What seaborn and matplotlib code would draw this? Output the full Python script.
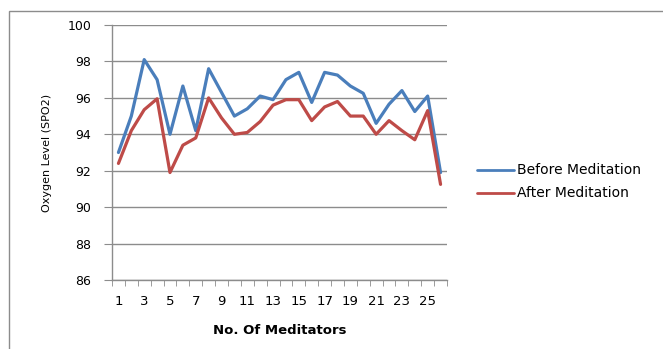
import numpy as np
import pandas as pd
import matplotlib
matplotlib.use("Agg")
import matplotlib.pyplot as plt
import seaborn as sns
from matplotlib.patches import Rectangle

meditators = list(range(1, 27))
before = [93.0, 95.0, 98.1, 97.0, 94.0, 96.65, 94.2, 97.6, 96.3, 95.0,
          95.4, 96.1, 95.9, 97.0, 97.4, 95.75, 97.4, 97.25, 96.65, 96.25,
          94.6, 95.65, 96.4, 95.25, 96.1, 91.9]
after = [92.4, 94.2, 95.35, 95.95, 91.9, 93.4, 93.8, 96.0, 94.9, 94.0,
         94.1, 94.7, 95.6, 95.9, 95.9, 94.75, 95.5, 95.8, 95.0, 95.0,
         94.0, 94.75, 94.2, 93.7, 95.3, 91.25]
series_names = ["Before Meditation", "After Meditation"]
y_ticks = [86, 88, 90, 92, 94, 96, 98, 100]

df = pd.DataFrame({
    "Meditator": meditators * 2,
    "SPO2": before + after,
    "Series": [series_names[0]] * len(before) + [series_names[1]] * len(after),
})

sns.set_style("white")
plt.rcParams["font.family"] = ["DejaVu Sans"]
plt.rcParams["text.color"] = "black"
plt.rcParams["axes.labelcolor"] = "black"
plt.rcParams["xtick.color"] = "black"
plt.rcParams["ytick.color"] = "black"

fig = plt.figure(figsize=(6.63, 3.49), dpi=100)
ax = fig.add_axes([112 / 663, 1 - 280 / 349, (447 - 112) / 663, (280 - 25) / 349])

grid_c = "#8c8c8c"
colors = ["#4a7ebb", "#be4b48"]
for y in y_ticks:
    ax.axhline(y, color=grid_c, lw=1.0, zorder=0)

sns.lineplot(data=df, x="Meditator", y="SPO2", hue="Series",
             palette=colors, linewidth=2.3, ax=ax, legend=False)

ax.set_xlim(0.5, 26.5)
ax.set_ylim(86, 100)
ax.set_yticks(y_ticks)
ax.set_yticklabels([str(v) for v in y_ticks], fontsize=9)
ax.set_xticks(meditators[::2])
ax.set_xticklabels([str(v) for v in meditators[::2]], fontsize=9.5)
ax.set_xticks(np.arange(0.5, 27, 1.0), minor=True)
ax.tick_params(axis="x", which="major", length=0, pad=11)
ax.tick_params(axis="x", which="minor", length=4, color=grid_c, direction="out", bottom=True)
ax.tick_params(axis="y", length=6, color=grid_c, labelcolor="black", direction="out", left=True, pad=9)

for s in ["top", "right"]:
    ax.spines[s].set_visible(False)
for s in ["left", "bottom"]:
    ax.spines[s].set_color(grid_c)
    ax.spines[s].set_linewidth(1.0)

ax.set_xlabel("No. Of Meditators", fontsize=9.5, fontweight="bold", labelpad=11)
ax.set_ylabel("Oxygen Level (SPO2)", fontsize=8, fontweight="medium", labelpad=11)

# legend drawn to the right of the plot
for i, (name, col) in enumerate(zip(series_names, colors)):
    yy = 1 - (170 + 23 * i) / 349
    fig.add_artist(plt.Line2D([477 / 663, 514 / 663], [yy, yy], color=col, lw=2.0,
                              transform=fig.transFigure))
    fig.text(517 / 663, yy, name, fontsize=10, va="center", ha="left")

# chart frame
fig.add_artist(Rectangle((9 / 663, -0.05), 1.1, 1 - 11 / 349 + 0.05,
                         transform=fig.transFigure, fill=False,
                         edgecolor="#8c8c8c", lw=1.0))

fig.savefig("out.png", dpi=100)
